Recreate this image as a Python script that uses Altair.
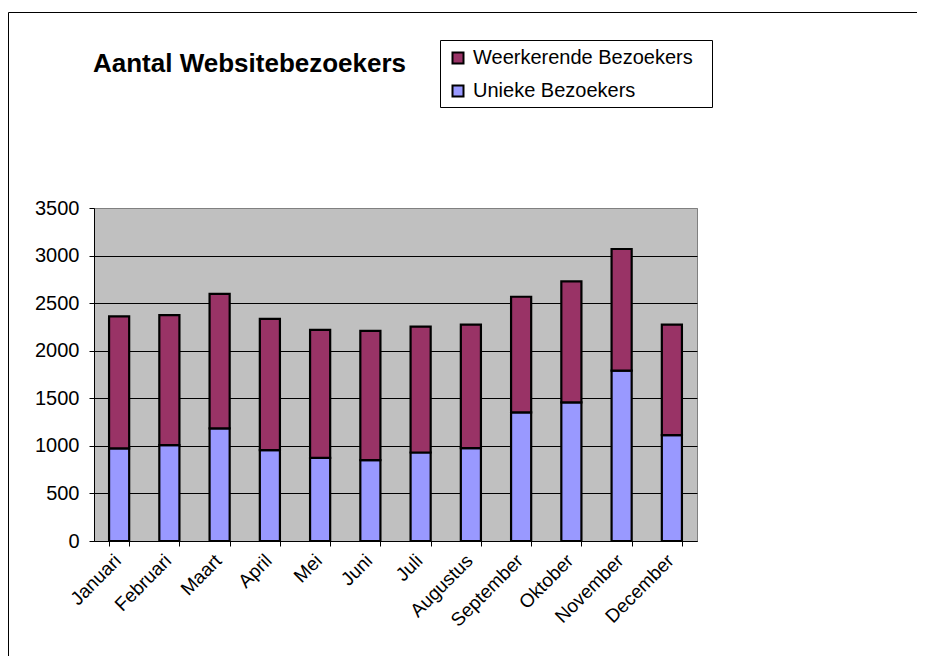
import altair as alt
import pandas as pd

months = ["Januari", "Februari", "Maart", "April", "Mei", "Juni", "Juli",
          "Augustus", "September", "Oktober", "November", "December"]
unieke = [973, 1008, 1183, 955, 874, 850, 930, 976, 1352, 1457, 1791, 1113]
weerkerende = [1387, 1366, 1415, 1380, 1345, 1359, 1324, 1299, 1215, 1271, 1278, 1162]
series_names = ["Weerkerende Bezoekers", "Unieke Bezoekers"]
series_colors = ["#993366", "#9999FF"]
y_ticks = [0, 500, 1000, 1500, 2000, 2500, 3000, 3500]
title_text = "Aantal Websitebezoekers"

rows = []
for m, u, w in zip(months, unieke, weerkerende):
    rows.append({"maand": m, "reeks": "Unieke Bezoekers", "waarde": u, "volg": 0})
    rows.append({"maand": m, "reeks": "Weerkerende Bezoekers", "waarde": w, "volg": 1})
df = pd.DataFrame(rows)

FONT = "Liberation Sans"
one = pd.DataFrame({"a": [0]})

frame = alt.Chart(one).mark_rect(fillOpacity=0, stroke="black", strokeWidth=1).encode(
    x=alt.value(-85.5), x2=alt.value(1200), y=alt.value(-195.5), y2=alt.value(1200)
)

bars = alt.Chart(df).mark_bar(stroke="black", strokeWidth=2.2).encode(
    x=alt.X("maand:N", sort=months,
            scale=alt.Scale(paddingInner=0.6, paddingOuter=0.3),
            axis=alt.Axis(title=None, labelAngle=-45, labelAlign="right", labelBaseline="top",
                          tickBand="extent", tickSize=5, labelPadding=5, labelFontSize=19,
                          labelFont=FONT, labelColor="black", domainColor="black",
                          tickColor="black", grid=False, labelOverlap=False, labelOffset=-8)),
    y=alt.Y("waarde:Q", stack="zero",
            scale=alt.Scale(domain=[0, 3500], nice=False),
            axis=alt.Axis(title=None, values=y_ticks, format="d", tickSize=5, labelPadding=10,
                          labelFontSize=20, labelFont=FONT, labelColor="black",
                          domainColor="black", tickColor="black", grid=True,
                          gridColor={"condition": {"test": "datum.value >= 3500", "value": "#808080"},
                                     "value": "#000000"},
                          gridWidth=1)),
    color=alt.Color("reeks:N",
                    scale=alt.Scale(domain=series_names, range=series_colors),
                    legend=alt.Legend(title=None, orient="none", legendX=354, legendY=-160,
                                      symbolType="square", symbolSize=121,
                                      symbolStrokeColor="black", symbolStrokeWidth=2,
                                      labelFontSize=20, labelFont=FONT, labelColor="black",
                                      labelLimit=0, rowPadding=13, padding=0, labelOffset=5)),
    order=alt.Order("volg:Q"),
)

legend_box = alt.Chart(one).mark_rect(fill="white", fillOpacity=0, stroke="black", strokeWidth=1).encode(
    x=alt.value(346.5), x2=alt.value(618.5), y=alt.value(-167.5), y2=alt.value(-100.5)
)

title = alt.Chart(one).mark_text(font=FONT, fontSize=26, fontWeight="bold", align="left",
                                 baseline="alphabetic", color="black").encode(
    x=alt.value(-1), y=alt.value(-136), text=alt.value(title_text)
)

chart = alt.layer(frame, bars, legend_box, title).properties(
    width=603, height=333,
    autosize=alt.AutoSizeParams(type="none"),
    padding={"left": 86, "top": 200, "right": 220, "bottom": 115},
).configure_view(fill="#C0C0C0", stroke="#808080", strokeWidth=1)

chart.save("out.html", embed_options={"renderer": "svg", "actions": False})
